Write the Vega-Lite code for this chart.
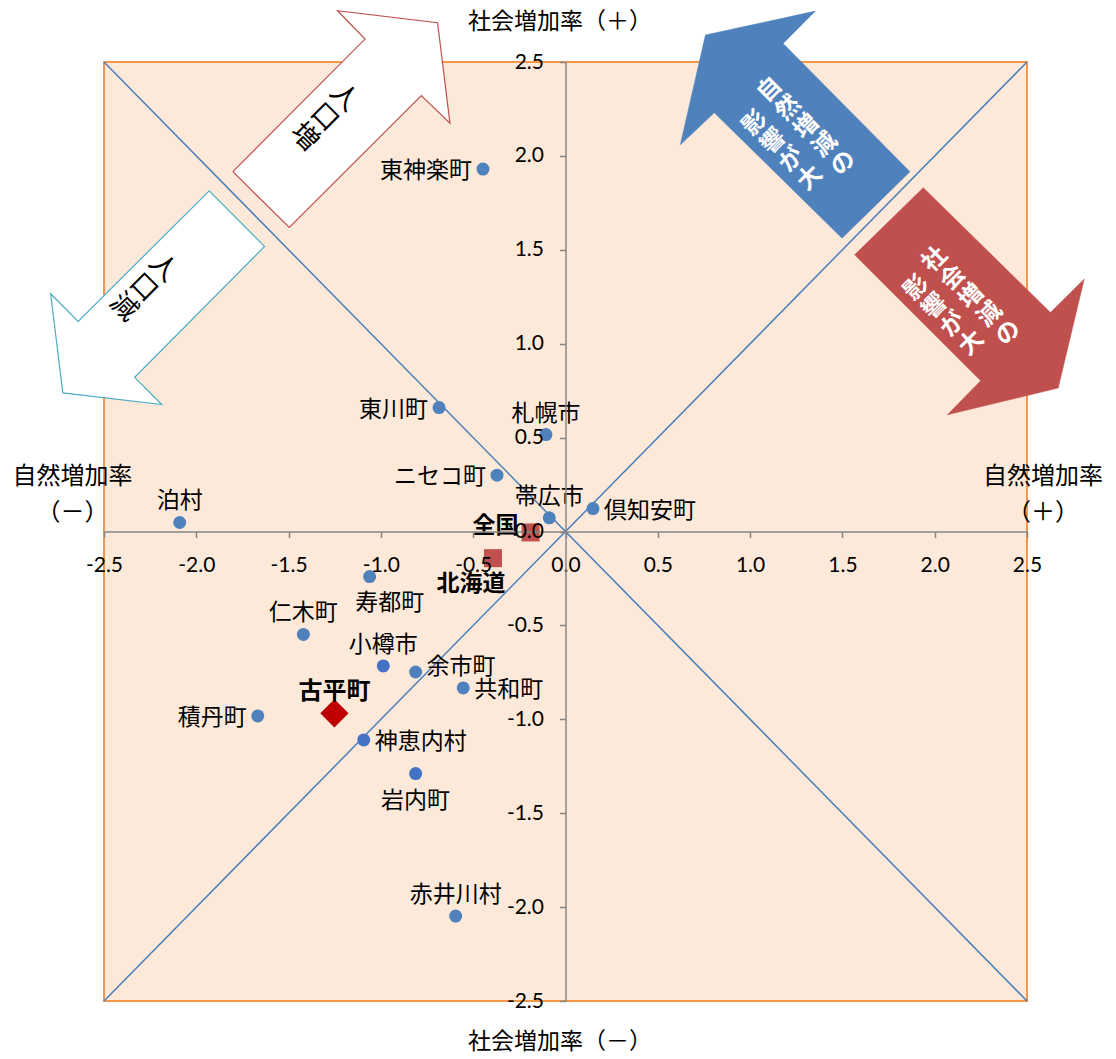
{
  "$schema": "https://vega.github.io/schema/vega-lite/v6.json",
  "width": 923,
  "height": 939,
  "autosize": {"type": "none"},
  "padding": {"left": 104, "top": 62, "right": 89, "bottom": 58},
  "background": "#ffffff",
  "config": {
    "view": {"fill": "#FDE9D9", "stroke": "#F79646", "strokeWidth": 2},
    "font": "Noto Sans CJK JP"
  },
  "datasets": {
    "points": [
      {"name": "東神楽町", "group": "municipality", "x": -0.447, "y": 1.93},
      {"name": "東川町", "group": "municipality", "x": -0.685, "y": 0.66},
      {"name": "札幌市", "group": "municipality", "x": -0.106, "y": 0.516},
      {"name": "ニセコ町", "group": "municipality", "x": -0.371, "y": 0.3},
      {"name": "帯広市", "group": "municipality", "x": -0.088, "y": 0.073},
      {"name": "倶知安町", "group": "municipality", "x": 0.149, "y": 0.122},
      {"name": "泊村", "group": "municipality", "x": -2.09, "y": 0.048},
      {"name": "寿都町", "group": "municipality", "x": -1.061, "y": -0.24},
      {"name": "仁木町", "group": "municipality", "x": -1.42, "y": -0.548},
      {"name": "小樽市", "group": "municipality", "x": -0.987, "y": -0.716},
      {"name": "余市町", "group": "municipality", "x": -0.812, "y": -0.748},
      {"name": "共和町", "group": "municipality", "x": -0.554, "y": -0.833},
      {"name": "積丹町", "group": "municipality", "x": -1.667, "y": -0.982},
      {"name": "神恵内村", "group": "municipality", "x": -1.093, "y": -1.11},
      {"name": "岩内町", "group": "municipality", "x": -0.812, "y": -1.289},
      {"name": "赤井川村", "group": "municipality", "x": -0.595, "y": -2.048},
      {"name": "古平町", "group": "focus", "x": -1.252, "y": -0.968},
      {"name": "全国", "group": "reference", "x": -0.189, "y": -0.005},
      {"name": "北海道", "group": "reference", "x": -0.393, "y": -0.142}
    ],
    "diagonals": [
      {"x": -2.5, "y": 2.5, "x2": 2.5, "y2": -2.5},
      {"x": -2.5, "y": -2.5, "x2": 2.5, "y2": 2.5}
    ],
    "arrows": [
      {"arrow": "人口増", "seq": 1, "x": -1.802, "y": 1.916},
      {"arrow": "人口増", "seq": 2, "x": -1.086, "y": 2.622},
      {"arrow": "人口増", "seq": 3, "x": -1.235, "y": 2.773},
      {"arrow": "人口増", "seq": 4, "x": -0.693, "y": 2.709},
      {"arrow": "人口増", "seq": 5, "x": -0.626, "y": 2.174},
      {"arrow": "人口増", "seq": 6, "x": -0.781, "y": 2.321},
      {"arrow": "人口増", "seq": 7, "x": -1.496, "y": 1.619},
      {"arrow": "人口増", "seq": 8, "x": -1.802, "y": 1.916},
      {"arrow": "人口減", "seq": 1, "x": -1.93, "y": 1.814},
      {"arrow": "人口減", "seq": 2, "x": -1.63, "y": 1.518},
      {"arrow": "人口減", "seq": 3, "x": -2.334, "y": 0.821},
      {"arrow": "人口減", "seq": 4, "x": -2.187, "y": 0.676},
      {"arrow": "人口減", "seq": 5, "x": -2.723, "y": 0.738},
      {"arrow": "人口減", "seq": 6, "x": -2.789, "y": 1.266},
      {"arrow": "人口減", "seq": 7, "x": -2.64, "y": 1.119},
      {"arrow": "人口減", "seq": 8, "x": -1.93, "y": 1.814},
      {"arrow": "自然増減", "seq": 1, "x": 0.758, "y": 2.644},
      {"arrow": "自然増減", "seq": 2, "x": 1.354, "y": 2.771},
      {"arrow": "自然増減", "seq": 3, "x": 1.179, "y": 2.599},
      {"arrow": "自然増減", "seq": 4, "x": 1.866, "y": 1.916},
      {"arrow": "自然増減", "seq": 5, "x": 1.498, "y": 1.562},
      {"arrow": "自然増減", "seq": 6, "x": 0.806, "y": 2.23},
      {"arrow": "自然増減", "seq": 7, "x": 0.622, "y": 2.059},
      {"arrow": "自然増減", "seq": 8, "x": 0.758, "y": 2.644},
      {"arrow": "社会増減", "seq": 1, "x": 1.938, "y": 1.831},
      {"arrow": "社会増減", "seq": 2, "x": 2.627, "y": 1.166},
      {"arrow": "社会増減", "seq": 3, "x": 2.81, "y": 1.344},
      {"arrow": "社会増減", "seq": 4, "x": 2.669, "y": 0.764},
      {"arrow": "社会増減", "seq": 5, "x": 2.069, "y": 0.622},
      {"arrow": "社会増減", "seq": 6, "x": 2.249, "y": 0.803},
      {"arrow": "社会増減", "seq": 7, "x": 1.566, "y": 1.473},
      {"arrow": "社会増減", "seq": 8, "x": 1.938, "y": 1.831}
    ],
    "notes": [
      {"role": "axis-title", "text": "社会増加率（＋）", "x": -0.03, "y": 2.711},
      {"role": "axis-title", "text": "社会増加率（－）", "x": -0.03, "y": -2.72},
      {"role": "side-title", "text": ["自然増加率", "（－）"], "x": -2.671, "y": 0.292},
      {"role": "side-title", "text": ["自然増加率", "（＋）"], "x": 2.587, "y": 0.292},
      {"role": "outline-arrow", "text": ["人", "口", "増"], "x": -1.2, "y": 2.311},
      {"role": "outline-arrow", "text": ["人", "口", "減"], "x": -2.18, "y": 1.404},
      {"role": "filled-arrow", "text": ["自", "然", "増", "減", "の"], "x": 1.108, "y": 2.351},
      {"role": "filled-arrow", "text": ["影", "響", "が", "大"], "x": 1.027, "y": 2.174},
      {"role": "filled-arrow", "text": ["社", "会", "増", "減", "の"], "x": 2.002, "y": 1.447},
      {"role": "filled-arrow", "text": ["影", "響", "が", "大"], "x": 1.902, "y": 1.296}
    ]
  },
  "encoding": {
    "x": {
      "field": "x",
      "type": "quantitative",
      "scale": {"domain": [-2.5, 2.5], "nice": false, "zero": false},
      "axis": {
        "title": null,
        "grid": false,
        "values": [-2.5, -2, -1.5, -1, -0.5, 0, 0.5, 1, 1.5, 2, 2.5],
        "format": ".1f",
        "labelExpr": "replace(datum.label, '−', '-')",
        "offset": {"expr": "scale('y', 0) - height"},
        "domainColor": "#868686",
        "domainWidth": 1.5,
        "tickColor": "#868686",
        "tickWidth": 1.5,
        "tickSize": 6,
        "labelFont": "Lato",
        "labelFontSize": 21,
        "labelColor": "#000000",
        "labelPadding": 17,
        "labelFlush": false,
        "labelOverlap": false,
        "zindex": 1
      }
    },
    "y": {
      "field": "y",
      "type": "quantitative",
      "scale": {"domain": [-2.5, 2.5], "nice": false, "zero": false},
      "axis": {
        "title": null,
        "grid": false,
        "values": [-2.5, -2, -1.5, -1, -0.5, 0, 0.5, 1, 1.5, 2, 2.5],
        "format": ".1f",
        "labelExpr": "replace(datum.label, '−', '-')",
        "offset": {"expr": "-scale('x', 0)"},
        "domainColor": "#868686",
        "domainWidth": 1.5,
        "tickColor": "#868686",
        "tickWidth": 1.5,
        "tickSize": 6,
        "labelFont": "Lato",
        "labelFontSize": 21,
        "labelColor": "#000000",
        "labelPadding": 16,
        "labelFlush": false,
        "labelOverlap": false,
        "zindex": 1
      }
    }
  },
  "layer": [
    {
      "data": {"name": "diagonals"},
      "mark": {"type": "rule", "stroke": "#4A7EBB", "strokeWidth": 1.5},
      "encoding": {"x2": {"field": "x2"}, "y2": {"field": "y2"}}
    },
    {
      "data": {"name": "arrows"},
      "transform": [{"filter": "datum.arrow === '人口増'"}],
      "mark": {"type": "line", "fill": "#ffffff", "stroke": "#C0504D", "strokeWidth": 1.2, "strokeJoin": "miter"},
      "encoding": {"order": {"field": "seq", "type": "quantitative"}}
    },
    {
      "data": {"name": "arrows"},
      "transform": [{"filter": "datum.arrow === '人口減'"}],
      "mark": {"type": "line", "fill": "#ffffff", "stroke": "#4BACC6", "strokeWidth": 1.2, "strokeJoin": "miter"},
      "encoding": {"order": {"field": "seq", "type": "quantitative"}}
    },
    {
      "data": {"name": "arrows"},
      "transform": [{"filter": "datum.arrow === '自然増減'"}],
      "mark": {"type": "line", "fill": "#4F81BD", "stroke": "#4F81BD", "strokeWidth": 0.5, "strokeJoin": "miter"},
      "encoding": {"order": {"field": "seq", "type": "quantitative"}}
    },
    {
      "data": {"name": "arrows"},
      "transform": [{"filter": "datum.arrow === '社会増減'"}],
      "mark": {"type": "line", "fill": "#C0504D", "stroke": "#C0504D", "strokeWidth": 0.5, "strokeJoin": "miter"},
      "encoding": {"order": {"field": "seq", "type": "quantitative"}}
    },
    {
      "data": {"name": "notes"},
      "transform": [{"filter": "datum.role === 'outline-arrow'"}],
      "mark": {"type": "text", "angle": 45, "align": "center", "baseline": "middle", "fontSize": 27, "lineHeight": 28, "color": "#000000"},
      "encoding": {"text": {"field": "text"}}
    },
    {
      "data": {"name": "notes"},
      "transform": [{"filter": "datum.role === 'filled-arrow'"}],
      "mark": {"type": "text", "angle": -45, "align": "center", "baseline": "middle", "fontSize": 24, "fontWeight": "bold", "lineHeight": 26, "color": "#ffffff"},
      "encoding": {"text": {"field": "text"}}
    },
    {
      "data": {"name": "points"},
      "transform": [{"filter": "datum.group === 'municipality'"}],
      "mark": {"type": "point", "shape": "circle", "filled": true, "size": 169, "opacity": 1},
      "encoding": {
        "color": {
          "condition": {"test": "indexof(['小樽市', '神恵内村', '岩内町'], datum.name) >= 0", "value": "#4472C4"},
          "value": "#4F81BD"
        }
      }
    },
    {
      "data": {"name": "points"},
      "transform": [{"filter": "datum.group === 'reference'"}],
      "mark": {"type": "point", "shape": "square", "filled": true, "size": 324, "opacity": 1, "color": "#C0504D"}
    },
    {
      "data": {"name": "points"},
      "transform": [{"filter": "datum.group === 'focus'"}],
      "mark": {"type": "point", "shape": "diamond", "filled": true, "size": 800, "opacity": 1, "color": "#C00000"}
    },
    {
      "data": {"name": "points"},
      "transform": [{"filter": "indexof(['東神楽町', '東川町', 'ニセコ町', '積丹町'], datum.name) >= 0"}],
      "mark": {"type": "text", "align": "right", "baseline": "middle", "dx": -11, "dy": 2, "fontSize": 23, "color": "#000000"},
      "encoding": {"text": {"field": "name"}}
    },
    {
      "data": {"name": "points"},
      "transform": [{"filter": "indexof(['倶知安町', '共和町', '神恵内村'], datum.name) >= 0"}],
      "mark": {"type": "text", "align": "left", "baseline": "middle", "dx": 11, "dy": 2, "fontSize": 23, "color": "#000000"},
      "encoding": {"text": {"field": "name"}}
    },
    {
      "data": {"name": "points"},
      "transform": [{"filter": "datum.name === '余市町'"}],
      "mark": {"type": "text", "align": "left", "baseline": "middle", "dx": 11, "dy": -5, "fontSize": 23, "color": "#000000"},
      "encoding": {"text": {"field": "name"}}
    },
    {
      "data": {"name": "points"},
      "transform": [{"filter": "indexof(['札幌市', '帯広市', '泊村', '仁木町', '小樽市', '赤井川村'], datum.name) >= 0"}],
      "mark": {"type": "text", "align": "center", "baseline": "middle", "dy": -21, "fontSize": 23, "color": "#000000"},
      "encoding": {"text": {"field": "name"}}
    },
    {
      "data": {"name": "points"},
      "transform": [{"filter": "datum.name === '岩内町'"}],
      "mark": {"type": "text", "align": "center", "baseline": "middle", "dy": 27, "fontSize": 23, "color": "#000000"},
      "encoding": {"text": {"field": "name"}}
    },
    {
      "data": {"name": "points"},
      "transform": [{"filter": "datum.name === '寿都町'"}],
      "mark": {"type": "text", "align": "center", "baseline": "middle", "dx": 20, "dy": 26, "fontSize": 23, "color": "#000000"},
      "encoding": {"text": {"field": "name"}}
    },
    {
      "data": {"name": "points"},
      "transform": [{"filter": "datum.name === '全国'"}],
      "mark": {"type": "text", "align": "right", "baseline": "middle", "dx": -12, "dy": -6, "fontSize": 23, "fontWeight": "bold", "color": "#000000"},
      "encoding": {"text": {"field": "name"}}
    },
    {
      "data": {"name": "points"},
      "transform": [{"filter": "datum.name === '北海道'"}],
      "mark": {"type": "text", "align": "center", "baseline": "middle", "dx": -22, "dy": 26, "fontSize": 23, "fontWeight": "bold", "color": "#000000"},
      "encoding": {"text": {"field": "name"}}
    },
    {
      "data": {"name": "points"},
      "transform": [{"filter": "datum.name === '古平町'"}],
      "mark": {"type": "text", "align": "center", "baseline": "middle", "dy": -21, "fontSize": 24, "fontWeight": "bold", "color": "#000000"},
      "encoding": {"text": {"field": "name"}}
    },
    {
      "data": {"name": "notes"},
      "transform": [{"filter": "datum.role === 'axis-title'"}],
      "mark": {"type": "text", "align": "center", "baseline": "middle", "fontSize": 23, "color": "#000000"},
      "encoding": {"text": {"field": "text"}}
    },
    {
      "data": {"name": "notes"},
      "transform": [{"filter": "datum.role === 'side-title'"}],
      "mark": {"type": "text", "align": "center", "baseline": "middle", "fontSize": 24, "lineHeight": 36, "color": "#000000"},
      "encoding": {"text": {"field": "text"}}
    }
  ]
}
